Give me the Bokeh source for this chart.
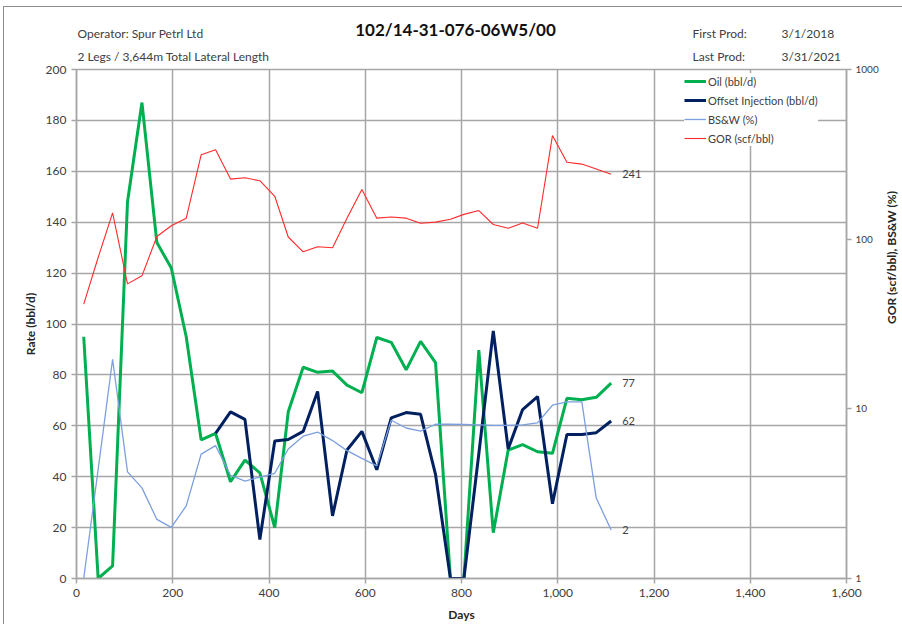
import math
from bokeh.plotting import figure
from bokeh.layouts import column
from bokeh.models import (Range1d, LogScale, LogAxis, FixedTicker,
                          NumeralTickFormatter, Legend, LegendItem, ColumnDataSource)
from bokeh.core.properties import value
from bokeh.embed import file_html
from bokeh.resources import INLINE

# ---------------- data ----------------
days = [15, 45, 75, 106, 136, 167, 197, 228, 259, 289, 320, 350, 381, 412, 440, 471,
        501, 532, 562, 593, 624, 654, 685, 715, 746, 777, 805, 836, 866, 897, 927, 958,
        989, 1019, 1050, 1080, 1111]

oil = [95, 0, 5, 148, 187, 132, 122, 95, 54.5, 57, 38, 46.5, 41.5, 20, 65.5, 83,
       81, 81.5, 76, 73, 94.7, 92.8, 82, 93.2, 84.8, 0, 0, 89.7, 18, 50.5, 52.6, 49.8,
       49.2, 70.8, 70.2, 71.2, 76.8]

inj_days = [289, 320, 350, 381, 412, 440, 471, 501, 532, 562, 593, 624, 654, 685, 715,
            746, 777, 805, 836, 866, 897, 927, 958, 989, 1019, 1050, 1080, 1111]
injection = [57, 65.5, 62.5, 15.3, 54, 54.6, 57.8, 73.5, 24.6, 50.5, 57.8, 42.7, 63.1,
             65.2, 64.5, 40.9, 0, 0, 49, 97.3, 50.9, 66.4, 71.5, 29.4, 56.6, 56.6, 57.3, 61.9]

bsw = [1, 4.4, 19.6, 4.25, 3.42, 2.23, 2.0, 2.68, 5.41, 6.07, 4.06, 3.75, 3.96, 4.17,
       5.8, 6.9, 7.3, 6.5, 5.67, 5.1, 4.61, 8.57, 7.71, 7.39, 8.11, 8.11, 8.1, 8.05,
       8.0, 8.0, 8.05, 8.26, 10.5, 11.0, 11.0, 2.98, 1.93]

gor = [41.4, 78, 143, 54.5, 60.8, 103.6, 120, 133, 314, 337, 226, 230, 221, 179, 103,
       84.2, 90.2, 89, 133, 196, 133, 135, 133, 124, 126, 131, 140, 147.5, 122, 116,
       124.5, 116, 408, 284, 277, 259, 241]

end_labels = ["241", "77", "62", "2"]

x_ticks = [0, 200, 400, 600, 800, 1000, 1200, 1400, 1600]
y_ticks = [0, 20, 40, 60, 80, 100, 120, 140, 160, 180, 200]
log_ticks = [1, 10, 100, 1000]

header_texts = ["Operator: Spur Petrl Ltd", "2 Legs / 3,644m Total Lateral Length",
                "102/14-31-076-06W5/00", "First Prod:", "3/1/2018", "Last Prod:", "3/31/2021"]

# ---------------- style ----------------
FONT = "Lato"
GRID = "#a6a6a6"
TXT = "#404040"
FRAME_W = 770
H_HEAD = 56

# ---------------- header (texts above the chart) ----------------
h = figure(frame_width=FRAME_W, height=H_HEAD, output_backend="svg", toolbar_location=None,
           x_range=Range1d(0, FRAME_W), y_range=Range1d(H_HEAD, 0),
           min_border_left=72, min_border_right=40, min_border_top=0, min_border_bottom=0)
h.xaxis.visible = False
h.yaxis.visible = False
h.grid.visible = False
h.outline_line_color = None
h.background_fill_color = "white"
h.border_fill_color = "white"

hsrc = ColumnDataSource(dict(
    x=[1, 1, 616, 616, 705, 705],
    y=[26, 49, 26, 49, 26, 49],
    t=[header_texts[0], header_texts[1], header_texts[3], header_texts[5],
       header_texts[4], header_texts[6]]))
h.text(x="x", y="y", text="t", source=hsrc, text_baseline="middle", text_align="left",
       text_font=value(FONT), text_font_size="12px", text_color=TXT)
tsrc = ColumnDataSource(dict(x=[379], y=[22], t=[header_texts[2]]))
h.text(x="x", y="y", text="t", source=tsrc, text_baseline="middle", text_align="center",
       text_font=value(FONT), text_font_size="17px", text_font_style="bold",
       text_color="#111111")

# ---------------- main chart ----------------
p = figure(frame_width=FRAME_W, frame_height=509, output_backend="svg", toolbar_location=None,
           x_range=Range1d(0, 1600), y_range=Range1d(0, 200),
           min_border_left=72, min_border_top=6, min_border_right=40, min_border_bottom=45)
p.background_fill_color = "white"
p.border_fill_color = "white"
p.outline_line_color = GRID
p.outline_line_width = 1.5

p.extra_y_ranges = {"log": Range1d(1, 1000)}
p.extra_y_scales = {"log": LogScale()}

for ax in [p.xaxis[0], p.yaxis[0]]:
    ax.axis_line_color = GRID
    ax.axis_line_width = 1.5
    ax.major_tick_line_color = GRID
    ax.major_tick_line_width = 1.5
    ax.major_tick_in = 0
    ax.major_tick_out = 5
    ax.minor_tick_line_color = None
    ax.major_label_text_font = FONT
    ax.major_label_text_font_size = "12px"
    ax.major_label_text_color = TXT
    ax.axis_label_text_font = FONT
    ax.axis_label_text_font_size = "12px"
    ax.axis_label_text_font_style = "bold"
    ax.axis_label_text_color = "#262626"

p.xaxis[0].ticker = FixedTicker(ticks=x_ticks)
p.xaxis[0].formatter = NumeralTickFormatter(format="0,0")
p.xaxis[0].axis_label = "Days"
p.xaxis[0].axis_label_standoff = 7
p.yaxis[0].ticker = FixedTicker(ticks=y_ticks)
p.yaxis[0].axis_label = "Rate (bbl/d)"
p.yaxis[0].axis_label_standoff = 5

rax = LogAxis(y_range_name="log", ticker=FixedTicker(ticks=log_ticks),
              formatter=NumeralTickFormatter(format="0"))
rax.axis_line_color = GRID
rax.axis_line_width = 1.5
rax.major_tick_line_color = GRID
rax.major_tick_line_width = 1.5
rax.major_tick_in = 0
rax.major_tick_out = 5
rax.minor_tick_line_color = None
rax.major_label_text_font = FONT
rax.major_label_text_font_size = "10px"
rax.major_label_text_color = TXT
rax.major_label_standoff = 4
rax.axis_label = "GOR (scf/bbl), BS&W (%)"
rax.axis_label_text_font = FONT
rax.axis_label_text_font_size = "12px"
rax.axis_label_text_font_style = "bold"
rax.axis_label_text_color = "#262626"
rax.axis_label_standoff = 10
rax.axis_label_orientation = math.pi / 2
rax.axis_label_text_align = "center"
p.add_layout(rax, "right")

p.xgrid.ticker = FixedTicker(ticks=x_ticks)
p.ygrid.ticker = FixedTicker(ticks=y_ticks)
for g in [p.xgrid[0], p.ygrid[0]]:
    g.grid_line_color = GRID
    g.grid_line_width = 1.5

r_oil = p.line(days, oil, line_color="#00b050", line_width=3)
r_inj = p.line(inj_days, injection, line_color="#002060", line_width=3)
r_bsw = p.line(days, bsw, line_color="#7c9fe0", line_width=1.3, y_range_name="log")
r_gor = p.line(days, gor, line_color="#ff2a2a", line_width=1.1, y_range_name="log")

lin_src = ColumnDataSource(dict(x=[days[-1], days[-1]], y=[oil[-1], injection[-1]],
                                t=[end_labels[1], end_labels[2]]))
log_src = ColumnDataSource(dict(x=[days[-1], days[-1]], y=[gor[-1], bsw[-1]],
                                t=[end_labels[0], end_labels[3]]))
for src, rng in [(lin_src, "default"), (log_src, "log")]:
    p.text(x="x", y="y", text="t", source=src, x_offset=11, text_baseline="middle",
           text_align="left", text_font=value(FONT), text_font_size="11px",
           text_color=TXT, y_range_name=rng)

legend = Legend(items=[LegendItem(label="Oil (bbl/d)", renderers=[r_oil]),
                       LegendItem(label="Offset Injection (bbl/d)", renderers=[r_inj]),
                       LegendItem(label="BS&W (%)", renderers=[r_bsw]),
                       LegendItem(label="GOR (scf/bbl)", renderers=[r_gor])],
                location=(608, 432))
legend.margin = 0
legend.padding = 2
legend.spacing = 3
legend.glyph_width = 22
legend.glyph_height = 16
legend.label_height = 16
legend.label_standoff = 2
legend.label_text_font = FONT
legend.label_text_font_size = "11px"
legend.label_text_color = TXT
legend.border_line_color = None
legend.background_fill_alpha = 1
p.add_layout(legend)

layout = column(h, p, spacing=0,
                styles={"margin-left": "3px", "margin-top": "6px",
                        "border-left": "1px solid #8c8c8c",
                        "border-top": "1px solid #8c8c8c"})

open("out.html", "w").write(file_html(layout, INLINE))
